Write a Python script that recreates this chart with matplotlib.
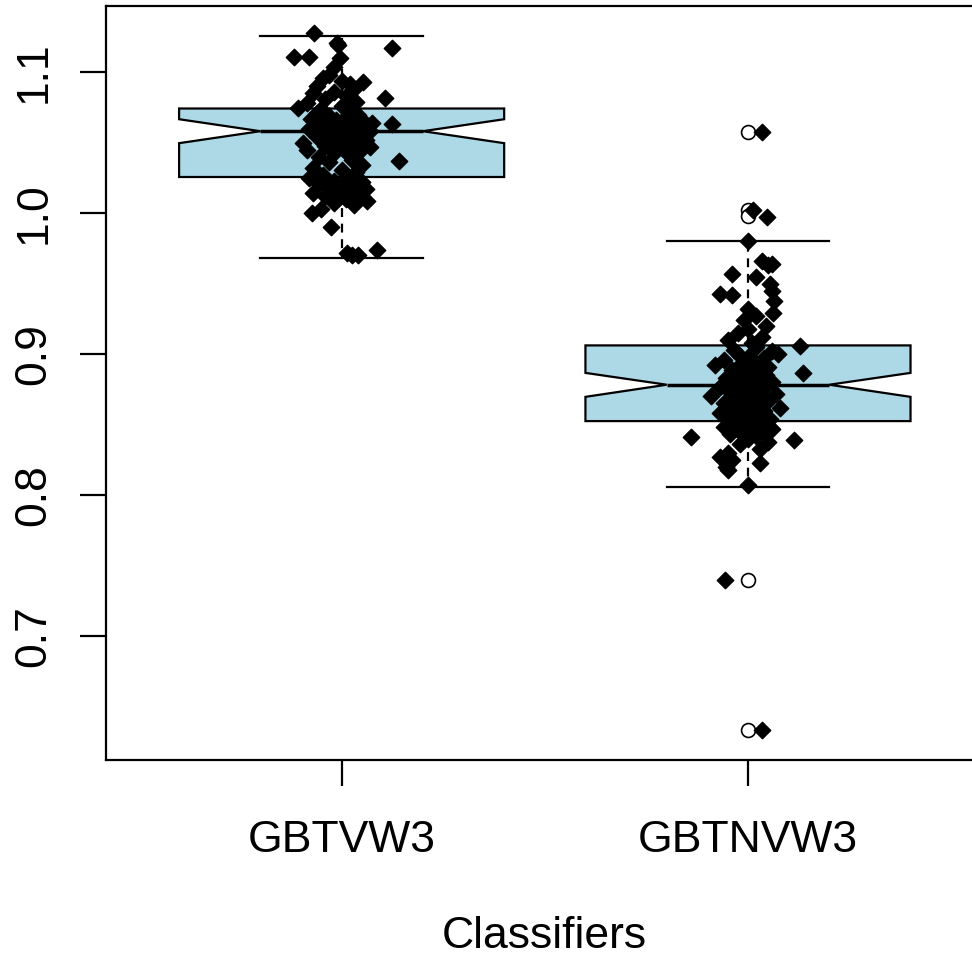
import matplotlib.pyplot as plt

plt.rcParams['font.family'] = ['Liberation Sans', 'DejaVu Sans']

# Box summary
classifiers = ["GBTVW3", "GBTNVW3"]
q1 = [1.0257, 0.8525]
medians = [1.0582, 0.8783]
q3 = [1.0743, 0.9062]
whisker_low = [0.968, 0.8057]
whisker_high = [1.1255, 0.980]
notch_low = [1.0497, 0.8697]
notch_high = [1.0667, 0.8867]
outliers_1 = []
outliers_2 = [1.0574, 1.002, 0.998, 0.7397, 0.633]

# Jittered points (value, horizontal jitter)
vals_1 = [1.1277, 1.117, 1.1206, 1.1106, 1.1106, 1.1195, 1.110, 1.104, 1.093, 1.082,
          1.075, 1.098, 1.096, 1.094, 1.092, 1.090, 1.088, 1.086, 1.085, 1.083,
          1.081, 1.079, 1.078, 1.076, 1.074,
          1.072, 1.071, 1.070, 1.069, 1.068, 1.067, 1.066, 1.066, 1.065, 1.064,
          1.063, 1.063, 1.062, 1.062, 1.061, 1.061, 1.060, 1.060, 1.059, 1.059,
          1.058, 1.058, 1.0585, 1.0595, 1.064,
          1.057, 1.056, 1.055, 1.054, 1.053, 1.052, 1.051, 1.050, 1.049, 1.048,
          1.047, 1.046, 1.045, 1.044, 1.043, 1.042, 1.040, 1.038, 1.037, 1.036,
          1.034, 1.032, 1.031, 1.029, 1.027,
          1.025, 1.024, 1.023, 1.022, 1.021, 1.020, 1.019, 1.018, 1.017, 1.016,
          1.015, 1.014, 1.013, 1.012, 1.010, 1.009, 1.007, 1.006, 1.003, 1.000,
          0.990, 0.972, 0.970, 0.9705, 0.9738]
jit_1 = [-0.067, 0.125, -0.012, -0.118, -0.081, -0.01, -0.005, -0.02, 0.052, 0.106,
         -0.108, -0.03, -0.045, 0.0, 0.02, -0.06, 0.03, -0.02, -0.07, 0.01,
         -0.04, 0.035, -0.085, 0.0, -0.05,
         0.02, -0.06, 0.04, -0.03, 0.01, -0.075, 0.05, -0.015, 0.03, -0.045,
         0.125, 0.0, -0.02, 0.06, -0.065, 0.015, -0.035, 0.045, -0.01, 0.025,
         -0.05, 0.07, 0.005, -0.08, 0.075,
         0.0, -0.03, 0.04, -0.06, 0.02, 0.06, -0.015, -0.095, 0.03, -0.04,
         0.07, 0.0, -0.085, 0.045, -0.02, 0.015, -0.055, 0.025, 0.14, -0.03,
         0.05, -0.07, 0.0, 0.035, -0.045,
         -0.08, 0.02, -0.02, 0.05, -0.055, 0.0, 0.035, -0.03, 0.06, -0.01,
         0.025, -0.07, 0.045, -0.04, 0.01, 0.062, -0.02, 0.03, -0.05, -0.072,
         -0.025, 0.012, 0.04, 0.025, 0.087]

vals_2 = [1.0574, 1.002, 0.997, 0.980, 0.966, 0.964, 0.963, 0.957, 0.955, 0.950,
          0.945, 0.943, 0.942, 0.938, 0.932, 0.929, 0.927, 0.924, 0.920, 0.918,
          0.915, 0.912, 0.910, 0.908, 0.906,
          0.905, 0.903, 0.902, 0.900, 0.899, 0.898, 0.897, 0.896, 0.895, 0.894,
          0.893, 0.892, 0.891, 0.890, 0.889, 0.888, 0.8865, 0.886, 0.885, 0.884,
          0.883, 0.882, 0.881, 0.880, 0.8795,
          0.878, 0.877, 0.876, 0.875, 0.874, 0.873, 0.872, 0.871, 0.870, 0.869,
          0.868, 0.867, 0.866, 0.865, 0.864, 0.863, 0.862, 0.861, 0.860, 0.859,
          0.858, 0.857, 0.856, 0.854, 0.853,
          0.851, 0.850, 0.849, 0.848, 0.847, 0.846, 0.845, 0.844, 0.843, 0.842,
          0.841, 0.840, 0.839, 0.838, 0.836, 0.833, 0.830, 0.827, 0.825, 0.823,
          0.820, 0.818, 0.807, 0.7397, 0.633]
jit_2 = [0.034, 0.012, 0.047, 0.0, 0.034, 0.06, 0.05, -0.04, 0.02, 0.055,
         0.06, -0.068, -0.04, 0.065, 0.0, 0.062, 0.02, -0.01, 0.045, 0.0,
         -0.025, 0.035, -0.05, 0.01, 0.128,
         0.02, -0.035, 0.06, 0.075, -0.02, 0.0, 0.04, -0.06, 0.015, -0.015,
         0.03, -0.08, 0.05, 0.0, -0.04, 0.02, 0.136, -0.025, 0.045, 0.005,
         -0.055, 0.03, -0.01, 0.06, -0.03,
         0.01, -0.07, 0.04, -0.02, 0.02, -0.045, 0.07, 0.0, -0.09, 0.03,
         -0.03, 0.05, 0.01, -0.06, 0.025, -0.01, 0.08, -0.04, 0.04, 0.0,
         -0.07, 0.02, -0.02, 0.055, -0.05,
         0.0, -0.03, 0.03, -0.06, 0.06, 0.01, -0.02, 0.04, -0.045, 0.02,
         -0.14, 0.0, 0.114, 0.05, -0.02, 0.03, -0.05, -0.07, -0.04, 0.03,
         -0.055, -0.05, 0.0, -0.057, 0.034]

stats = []
for i in range(2):
    stats.append({'label': classifiers[i], 'q1': q1[i], 'med': medians[i], 'q3': q3[i],
                  'whislo': whisker_low[i], 'whishi': whisker_high[i],
                  'cilo': notch_low[i], 'cihi': notch_high[i],
                  'fliers': [outliers_1, outliers_2][i]})

fig = plt.figure(figsize=(9.72, 9.6), dpi=100)
ax = fig.add_axes([0.109, 0.2083, 0.903, 0.7854])

ax.bxp(stats, positions=[1, 2], widths=0.8, capwidths=0.4, shownotches=True,
       patch_artist=True,
       boxprops=dict(facecolor='lightblue', edgecolor='black', linewidth=1.6),
       medianprops=dict(color='black', linewidth=2.5),
       whiskerprops=dict(color='black', linewidth=1.6, linestyle=(0, (4, 3))),
       capprops=dict(color='black', linewidth=1.6),
       flierprops=dict(marker='o', markerfacecolor='white', markeredgecolor='black',
                       markersize=10, markeredgewidth=1.2))

# stripchart-style jittered points on top of the boxes
ax.scatter([1 + j for j in jit_1], vals_1, marker='D', s=70, color='black', zorder=5)
ax.scatter([2 + j for j in jit_2], vals_2, marker='D', s=70, color='black', zorder=5)

ax.set_xlim(0.42, 2.58)
ax.set_ylim(0.612, 1.147)
ax.set_yticks([0.7, 0.8, 0.9, 1.0, 1.1])
ax.set_yticklabels(["0.7", "0.8", "0.9", "1.0", "1.1"], rotation=90, va='center')
ax.set_xticks([1, 2])
ax.set_xticklabels(classifiers)
ax.tick_params(axis='both', labelsize=32, length=19, width=1.6, direction='out', colors='black')
ax.tick_params(axis='y', pad=18)
ax.tick_params(axis='x', pad=24)
ax.set_xlabel("Classifiers", fontsize=32, labelpad=40)
for s in ax.spines.values():
    s.set_linewidth(1.6)

plt.savefig("out.png", dpi=100)
